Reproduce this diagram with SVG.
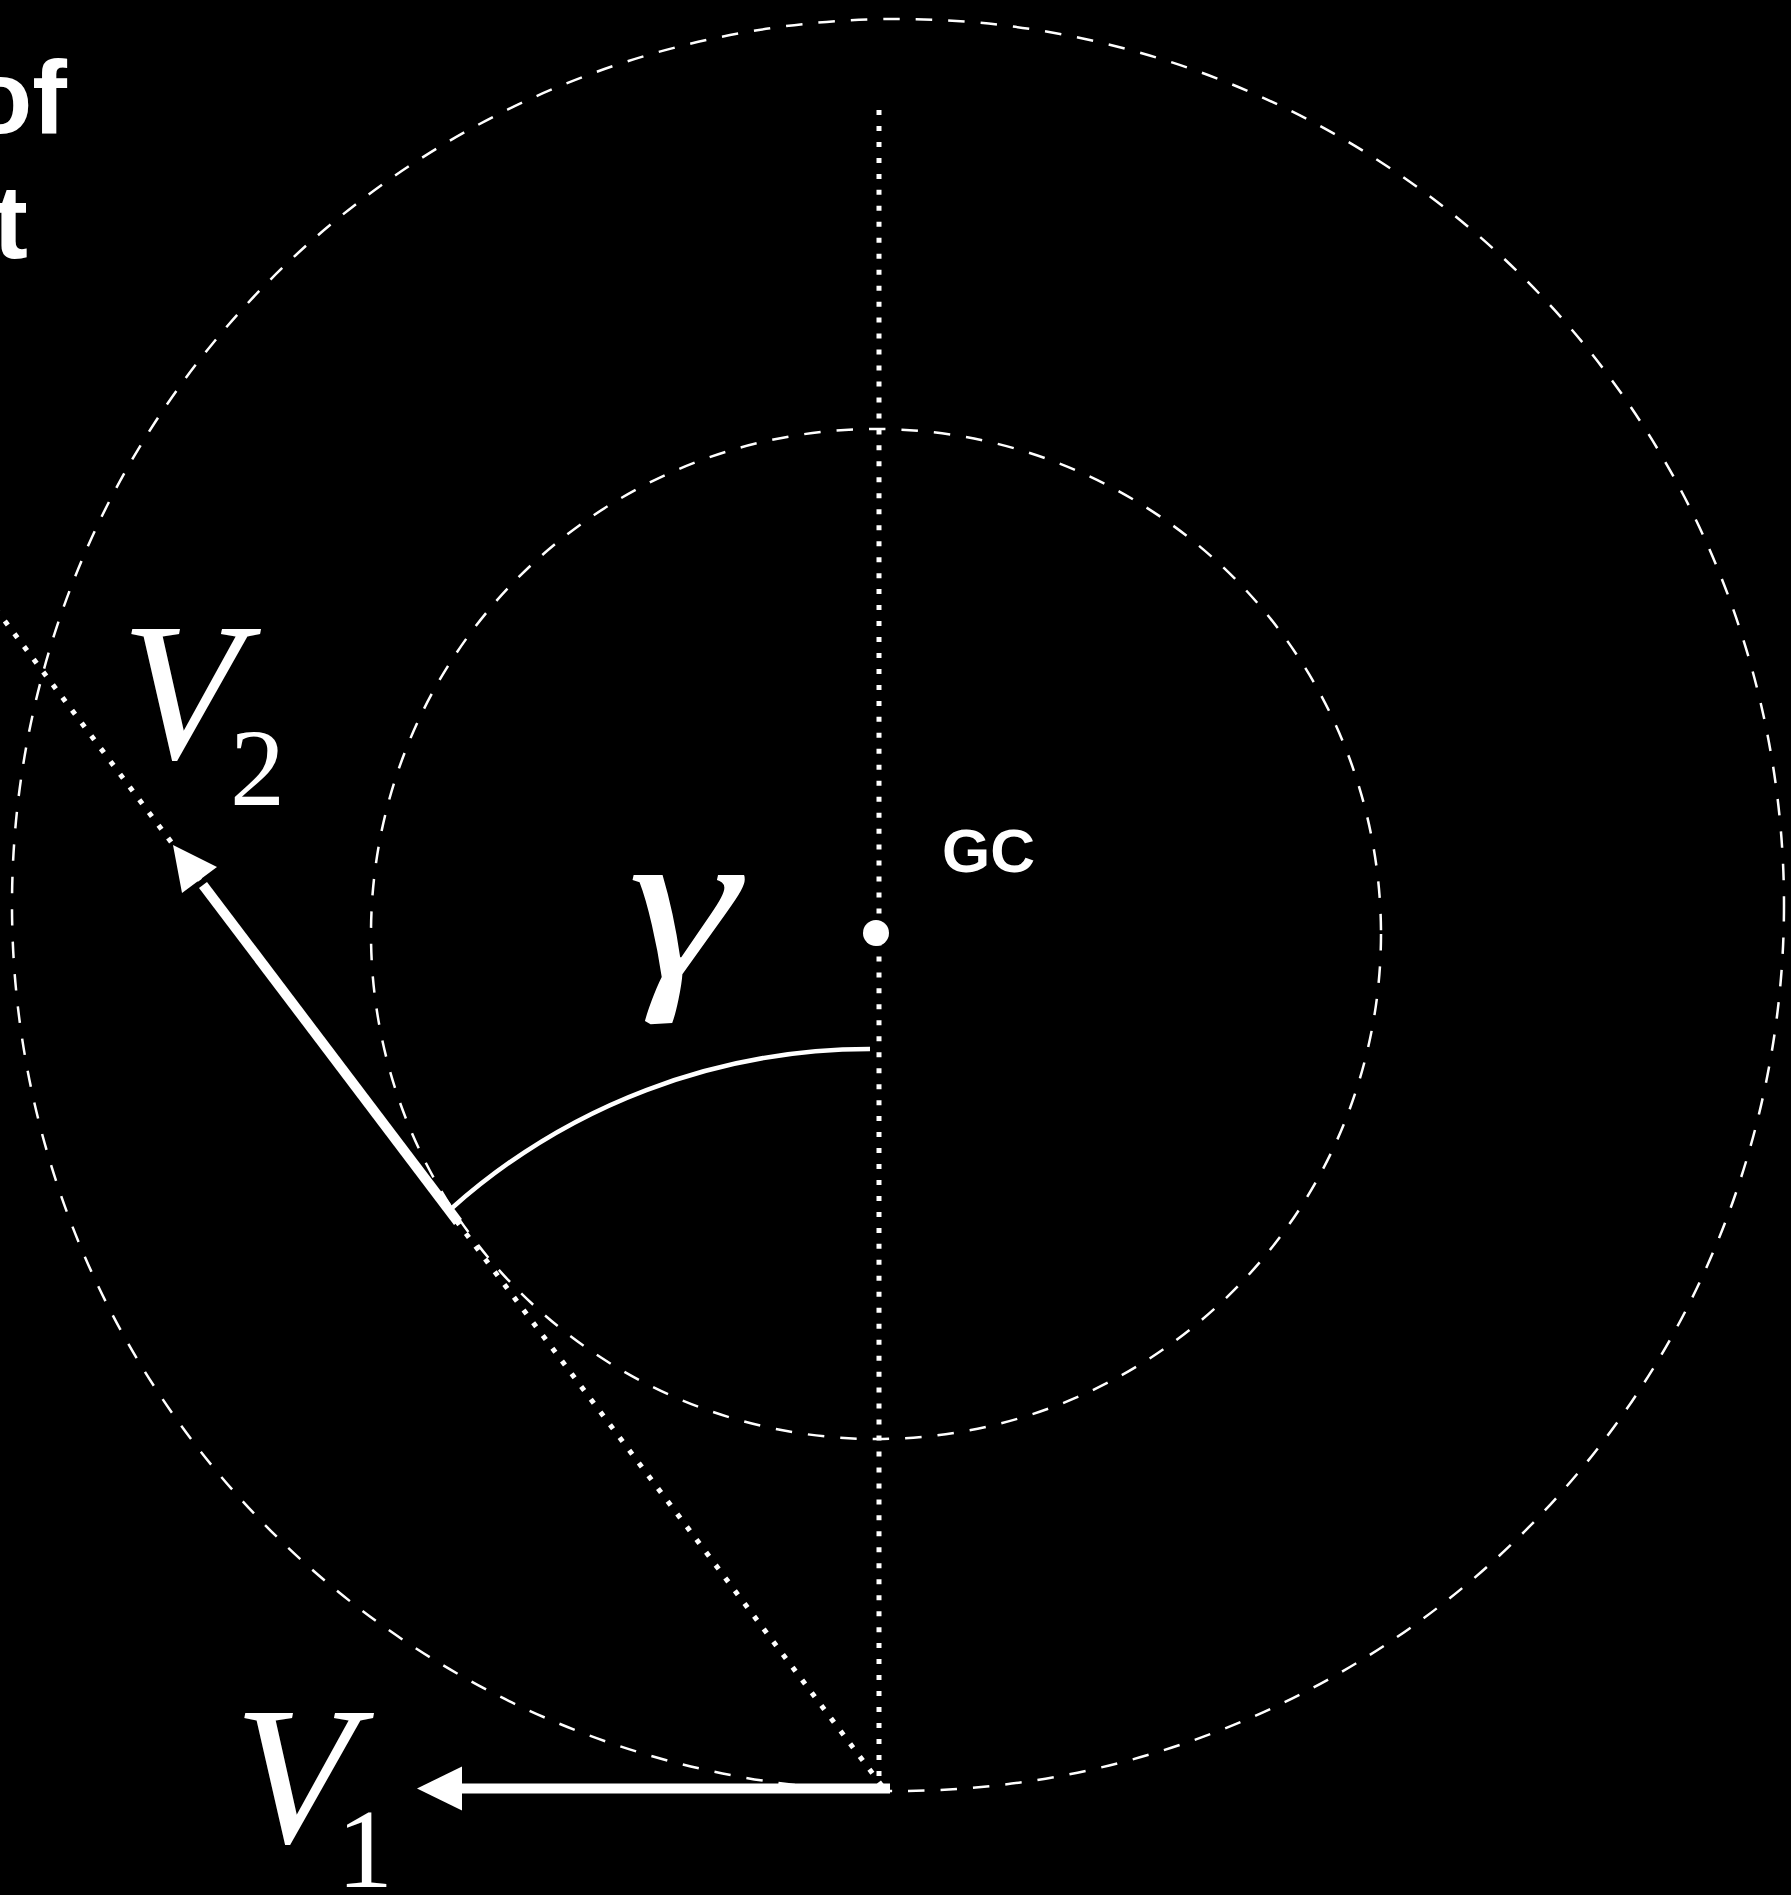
<svg xmlns="http://www.w3.org/2000/svg" width="1791" height="1895" viewBox="0 0 1791 1895">
<style>
.dash{fill:none;stroke:#fff;stroke-width:2.5;stroke-dasharray:16.5 16}
.dot{fill:none;stroke:#fff;stroke-width:5;stroke-dasharray:5 10.97}
.vec{stroke:#fff;stroke-width:10;fill:none}
.head{fill:#fff}
.math{font-family:"Liberation Serif","Times New Roman",serif;fill:#fff}
.title{font-family:"Liberation Sans",Arial,sans-serif;font-weight:bold;fill:#fff;font-size:104px}
</style>
<rect x="0" y="0" width="1791" height="1895" fill="#000"/>
<g id="title">
<text class="title" x="67" y="133" text-anchor="end">of</text>
<text class="title" x="28" y="258" text-anchor="end">t</text>
</g>
<g id="outer-circle"><circle class="dash" cx="898" cy="905" r="886"/></g>
<g id="inner-circle"><circle class="dash" cx="876" cy="934" r="505"/></g>
<g id="connectors">
<line class="dot" x1="879" y1="110" x2="879" y2="1786"/>
<line class="dot" x1="882" y1="1786" x2="-5" y2="608"/>
<path d="M452,1208 A628,628 0 0 1 870,1049" fill="none" stroke="#fff" stroke-width="4.5"/>
<line class="vec" x1="890" y1="1788.5" x2="455" y2="1788.5"/>
<polygon class="head" points="417,1788.5 462,1766.5 462,1810.5"/>
<line class="vec" x1="458" y1="1222" x2="203" y2="885"/>
<polygon class="head" points="173,845 217,867 182,893"/>
</g>
<g id="gc">
<circle cx="876" cy="933" r="13" fill="#fff"/>
<text x="942" y="872" font-family="Liberation Sans, Arial, sans-serif" font-weight="bold" font-size="62" fill="#fff">GC</text>
</g>
<g id="gamma"><text class="math" x="628" y="977" font-size="222" font-style="italic" transform="translate(630,0) scale(1.27,1) translate(-630,0)">γ</text></g>
<g id="v2">
<text class="math" x="121" y="758" font-size="198" font-style="italic">V</text>
<text class="math" x="230" y="805" font-size="110">2</text>
</g>
<g id="v1">
<text class="math" x="234" y="1842" font-size="198" font-style="italic">V</text>
<text class="math" x="337" y="1887" font-size="112">1</text>
</g>
</svg>
